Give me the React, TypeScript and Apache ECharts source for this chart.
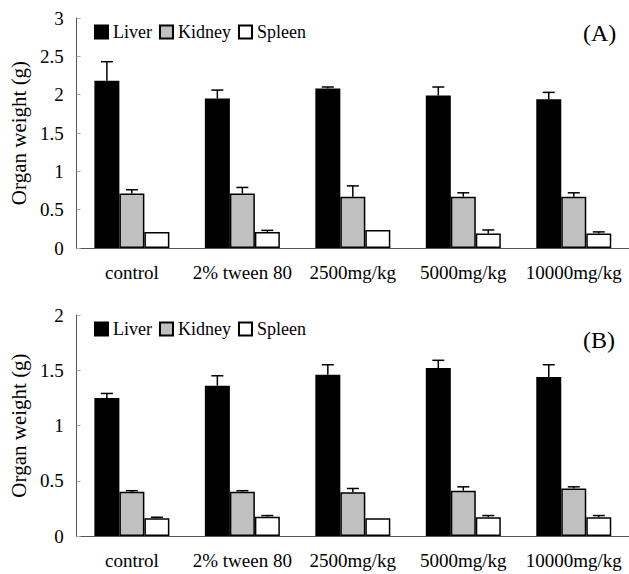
import React, { useEffect, useRef } from "react";
import * as echarts from "echarts";

const categories = ["control", "2% tween 80", "2500mg/kg", "5000mg/kg", "10000mg/kg"];
const organs = ["Liver", "Kidney", "Spleen"];

// Panel A
const liverA = [2.18, 1.95, 2.08, 1.99, 1.94];
const kidneyA = [0.71, 0.71, 0.67, 0.67, 0.67];
const spleenA = [0.21, 0.21, 0.235, 0.19, 0.19];
const liverErrA = [0.25, 0.11, 0.02, 0.11, 0.09];
const kidneyErrA = [0.05, 0.08, 0.14, 0.05, 0.05];
const spleenErrA = [0, 0.02, 0, 0.045, 0.02];

// Panel B
const liverB = [1.25, 1.36, 1.46, 1.52, 1.44];
const kidneyB = [0.4, 0.4, 0.395, 0.41, 0.43];
const spleenB = [0.16, 0.175, 0.16, 0.17, 0.17];
const liverErrB = [0.04, 0.09, 0.09, 0.07, 0.11];
const kidneyErrB = [0.01, 0.01, 0.035, 0.035, 0.015];
const spleenErrB = [0.01, 0.01, 0, 0.015, 0.015];

const yTicksA = { min: 0, max: 3, interval: 0.5 };
const yTicksB = { min: 0, max: 2, interval: 0.5 };

const FONT = "'Liberation Serif', 'Times New Roman', serif";
const colors = ["#000000", "#c0c0c0", "#ffffff"];
const BAR_W = 25;

function errData(vals: number[][], errs: number[][]) {
  const out: number[][] = [];
  for (let s = 0; s < vals.length; s++) {
    for (let c = 0; c < vals[s].length; c++) {
      if (errs[s][c] > 0) out.push([c, s, vals[s][c], vals[s][c] + errs[s][c]]);
    }
  }
  return out;
}

function renderErr(params: any, api: any) {
  const c = api.value(0);
  const s = api.value(1);
  const v = api.value(2);
  const e = api.value(3);
  const p0 = api.coord([c, v]);
  const p1 = api.coord([c, e]);
  const x = p0[0] + (s - 1) * BAR_W;
  const style = { stroke: "#000", lineWidth: 1.5 };
  return {
    type: "group",
    children: [
      { type: "line", shape: { x1: x, y1: p0[1], x2: x, y2: p1[1] }, style },
      { type: "line", shape: { x1: x - 6, y1: p1[1], x2: x + 6, y2: p1[1] }, style },
    ],
  };
}

export default function App() {
  const ref = useRef<HTMLDivElement>(null);
  useEffect(() => {
    if (!ref.current) return;
    const chart = echarts.init(ref.current, null, { renderer: "svg" });
    const valsA = [liverA, kidneyA, spleenA];
    const valsB = [liverB, kidneyB, spleenB];
    const errsA = [liverErrA, kidneyErrA, spleenErrA];
    const errsB = [liverErrB, kidneyErrB, spleenErrB];

    const xAxisBase = (gridIndex: number) => ({
      type: "category",
      gridIndex,
      data: categories,
      axisLine: { lineStyle: { color: "#555", width: 1 } },
      axisTick: { inside: true, length: 4, lineStyle: { color: "#aaa" } },
      axisLabel: { fontSize: 19, color: "#000", margin: 15, interval: 0, fontFamily: FONT },
    });
    const yAxisBase = (gridIndex: number, t: any) => ({
      type: "value",
      gridIndex,
      min: t.min,
      max: t.max,
      interval: t.interval,
      name: "Organ weight (g)",
      nameLocation: "middle",
      nameGap: 47,
      nameRotate: 90,
      nameTextStyle: { fontSize: 21, color: "#000", fontFamily: FONT },
      splitLine: { show: false },
      axisLine: { show: true, lineStyle: { color: "#555", width: 1 } },
      axisTick: { show: true, inside: true, length: 4, lineStyle: { color: "#aaa" } },
      axisLabel: { fontSize: 19, color: "#000", margin: 13, fontFamily: FONT },
    });

    const barSeries = (vals: number[][], idx: number) =>
      vals.map((d, s) => ({
        type: "bar",
        name: organs[s],
        xAxisIndex: idx,
        yAxisIndex: idx,
        data: d,
        barWidth: BAR_W,
        barGap: "0%",
        itemStyle: { color: colors[s], borderColor: "#000", borderWidth: 1.5 },
        emphasis: { disabled: true },
      }));

    const legendBase = (top: number) => ({
      left: 94,
      top,
      padding: 0,
      icon: "rect",
      itemWidth: 13,
      itemHeight: 13,
      itemGap: 7,
      data: organs,
      selectedMode: false,
      textStyle: { fontSize: 18, color: "#000", fontFamily: FONT },
    });

    chart.setOption({
      animation: false,
      textStyle: { fontFamily: FONT },
      grid: [
        { left: 76, top: 18, width: 555, height: 230 },
        { left: 76, top: 315, width: 555, height: 221 },
      ],
      xAxis: [xAxisBase(0), xAxisBase(1)],
      yAxis: [yAxisBase(0, yTicksA), yAxisBase(1, yTicksB)],
      legend: [legendBase(23), legendBase(320)],
      graphic: [
        { type: "text", left: 583, top: 21, style: { text: "(A)", fontSize: 24, fontFamily: FONT, fill: "#000" } },
        { type: "text", left: 583, top: 328, style: { text: "(B)", fontSize: 24, fontFamily: FONT, fill: "#000" } },
      ],
      series: [
        ...barSeries(valsA, 0),
        ...barSeries(valsB, 1),
        {
          type: "custom",
          xAxisIndex: 0,
          yAxisIndex: 0,
          renderItem: renderErr,
          encode: { x: 0, y: [2, 3] },
          data: errData(valsA, errsA),
          z: 5,
        },
        {
          type: "custom",
          xAxisIndex: 1,
          yAxisIndex: 1,
          renderItem: renderErr,
          encode: { x: 0, y: [2, 3] },
          data: errData(valsB, errsB),
          z: 5,
        },
      ],
    });
    return () => chart.dispose();
  }, []);
  return (
    <div
      ref={ref}
      style={{ position: "fixed", left: 0, top: 0, width: 629, height: 574, background: "#fff" }}
    />
  );
}
